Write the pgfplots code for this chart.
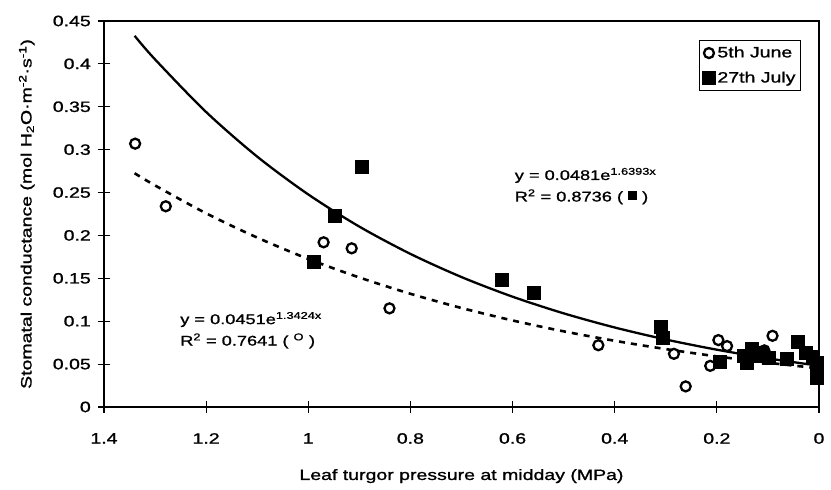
\documentclass[border=0pt]{standalone}
\usepackage{pgfplots}
\pgfplotsset{compat=1.18}
\usepackage{fontspec}
\setmainfont{Liberation Sans}[FakeStretch=1.3, FakeBold=1.2]
\begin{document}
\fontsize{15}{18}\selectfont
\begin{tikzpicture}
\begin{axis}[
  at={(0,0)}, anchor=south west,
  scale only axis, width=715pt, height=386pt,
  x dir=reverse,
  xmin=0, xmax=1.4, ymin=0, ymax=0.45,
  xtick={0,0.2,0.4,0.6,0.8,1,1.2,1.4},
  xticklabels={0,0.2,0.4,0.6,0.8,1,1.2,1.4},
  ytick={0,0.05,0.1,0.15,0.2,0.25,0.3,0.35,0.4,0.45},
  yticklabels={0,0.05,0.1,0.15,0.2,0.25,0.3,0.35,0.4,0.45},
  tick align=center, xtick pos=bottom, ytick pos=left,
  major tick length=12pt,
  tick style={black, line width=1.2pt},
  axis line style={black, line width=1.5pt},
  ticklabel style={font=\fontsize{15}{18}\selectfont},
  yticklabel style={xshift=-2pt},
  xticklabel style={yshift=-15pt},
  /pgf/number format/assume math mode=true,
  xlabel={Leaf turgor pressure at midday (MPa)},
  ylabel={Stomatal conductance (mol H\textsubscript{2}O·m\textsuperscript{-2}·s\textsuperscript{-1})},
  xlabel style={at={(axis description cs:0.5,-0.179)}, anchor=center, font=\fontsize{15}{18}\selectfont},
  ylabel style={at={(axis description cs:-0.108,0.5)}, anchor=center, font=\fontsize{15}{18}\selectfont},
  clip=false,
  legend style={at={(axis description cs:0.975,0.951)}, anchor=north east,
    draw=black, line width=1.2pt, font=\fontsize{15}{18}\selectfont,
    inner xsep=3pt, inner ysep=4pt, row sep=8pt},
  legend cell align=left,
]
\addplot[only marks, mark=o, mark size=5pt, mark options={line width=2.3pt, black}]
coordinates {
(1.339,0.307) (1.279,0.234) (0.970,0.192) (0.915,0.185) (0.841,0.115)
(0.432,0.072) (0.284,0.062) (0.261,0.024) (0.213,0.048) (0.197,0.078)
(0.180,0.071) (0.107,0.066) (0.091,0.083)
};
\addlegendentry{5th June}
\addplot[only marks, mark=square*, mark size=6.5pt, mark options={black, line width=0pt}]
coordinates {
(0.989,0.169) (0.948,0.223) (0.895,0.280) (0.621,0.148) (0.558,0.133)
(0.310,0.093) (0.306,0.081) (0.194,0.052) (0.147,0.060) (0.140,0.051)
(0.131,0.068) (0.120,0.060) (0.111,0.063) (0.098,0.057) (0.062,0.056)
(0.041,0.076) (0.025,0.063) (0.012,0.058) (0.003,0.051) (0.003,0.042)
(0.003,0.034)
};
\addlegendentry{27th July}
% fitted curve, 27th July (solid)
\addplot[black, line width=2.3pt, smooth, forget plot]
coordinates {
(1.34,0.4327) (1.3,0.4052) (1.2,0.3439) (1.1,0.2919) (1.0,0.2478)
(0.9,0.2103) (0.8,0.1785) (0.7,0.1515) (0.6,0.1286) (0.5,0.1092)
(0.4,0.0927) (0.3,0.0787) (0.2,0.0668) (0.1,0.0567) (0,0.0481)
};
% fitted curve, 5th June (dashed)
\addplot[black, line width=2.6pt, dash pattern=on 6pt off 6pt, smooth, forget plot]
coordinates {
(1.34,0.2725) (1.3,0.2583) (1.2,0.2258) (1.1,0.1975) (1.0,0.1726)
(0.9,0.1510) (0.8,0.1320) (0.7,0.1154) (0.6,0.1009) (0.5,0.0882)
(0.4,0.0772) (0.3,0.0675) (0.2,0.0590) (0.1,0.0516) (0,0.0451)
};
\node[anchor=west, inner sep=0pt, font=\fontsize{14}{16}\selectfont] at (axis cs:0.596,0.270) {y = 0.0481e\textsuperscript{1.6393x}};
\node[anchor=west, inner sep=0pt, font=\fontsize{14}{16}\selectfont] at (axis cs:0.596,0.245) {R\textsuperscript{2} = 0.8736 ( \raisebox{1pt}{\rule{9pt}{9pt}} )};
\node[anchor=west, inner sep=0pt, font=\fontsize{14}{16}\selectfont] at (axis cs:1.251,0.102) {y = 0.0451e\textsuperscript{1.3424x}};
\node[anchor=west, inner sep=0pt, font=\fontsize{14}{16}\selectfont] at (axis cs:1.251,0.077) {R\textsuperscript{2} = 0.7641 ( \textsuperscript{O} )};
\end{axis}
\pgfresetboundingbox
\path (-104pt,-83pt) rectangle (727pt,407pt);
\end{tikzpicture}
\end{document}
